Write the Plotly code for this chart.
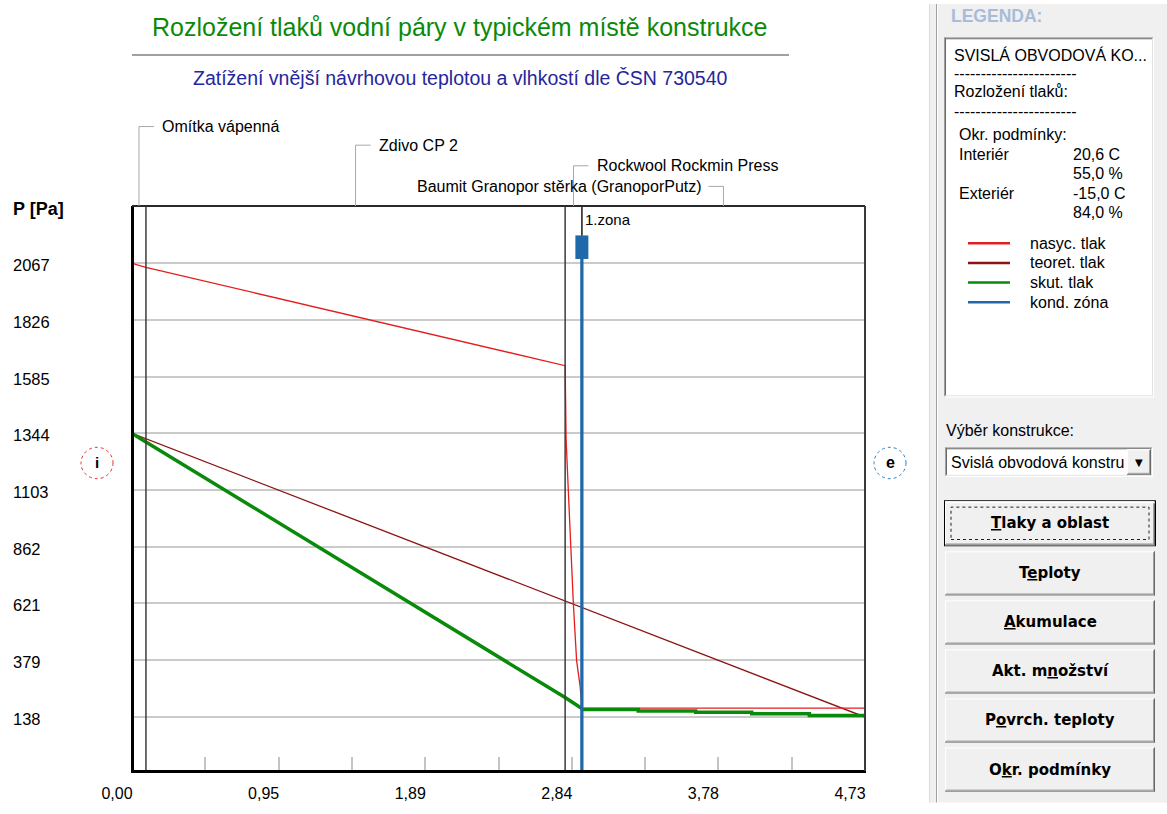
import plotly.graph_objects as go

# ---------------- data ----------------
layer_names = ["Omítka vápenná", "Zdivo CP 2", "Rockwool Rockmin Press",
               "Baumit Granopor stěrka (GranoporPutz)"]
layer_bounds = [0.0, 0.09, 2.795, 2.903, 4.73]

y_tick_vals = [138, 379, 621, 862, 1103, 1344, 1585, 1826, 2067]
x_tick_vals = [0.0, 0.473, 0.946, 1.419, 1.892, 2.365, 2.838, 3.311, 3.784, 4.257, 4.73]
x_tick_text = ["0,00", "", "0,95", "", "1,89", "", "2,84", "", "3,78", "", "4,73"]

# saturated pressure (nasyc. tlak)
sat_x = [0.0, 0.09, 2.795, 2.801, 2.815, 2.831, 2.848, 2.869, 2.891, 2.905, 4.73]
sat_p = [2067, 2050, 1632, 1324, 1108, 857, 621, 378, 273, 176, 176]
# theoretical pressure (teoret. tlak)
theo_x = [0.0, 0.09, 2.795, 2.903, 4.73]
theo_p = [1344, 1321, 631, 604, 138]
# actual pressure (skut. tlak)
act_x = [0.0, 0.09, 2.795, 2.903]
act_p = [1344, 1308, 221, 174]
act2_x = [2.903, 3.267, 3.637, 3.999, 4.371, 4.73]
act2_p = [170, 164, 158, 152, 145, 145]
# condensation zone
zone_x = [2.903]
zone_names = ["1.zona"]

legend_names = ["nasyc. tlak", "teoret. tlak", "skut. tlak", "kond. zóna"]
cond_rows = [("Interiér", "20,6 C", "55,0 %"), ("Exteriér", "-15,0 C", "84,0 %")]
button_labels = ["<u>T</u>laky a oblast", "T<u>e</u>ploty", "<u>A</u>kumulace",
                 "Akt. m<u>n</u>ožství", "P<u>o</u>vrch. teploty", "O<u>k</u>r. podmínky"]

title_text = "Rozložení tlaků vodní páry v typickém místě konstrukce"
subtitle_text = "Zatížení vnější návrhovou teplotou a vlhkostí dle ČSN 730540"

# ---------------- styles / layout ----------------
W, H = 1167, 814
L, R, T, B = 132, 865, 206, 782
FONT = "Liberation Sans, Arial, sans-serif"
BFONT = "DejaVu Sans, Verdana, sans-serif"
C_SAT = "#e41e1e"
C_THEO = "#8c1414"
C_ACT = "#0a8a0a"
C_ZONE = "#1f69ab"
Y_RANGE = [-91.4, 2311]
PF = 16  # panel font size


def px(x):
    return (x - L) / (R - L)


def py(y):
    return (B - y) / (B - T)


shapes = []
ann = []


def rect(x0, y0, x1, y1, fill=None, line=None, lw=1, dash=None, layer="above"):
    d = dict(type="rect", xref="paper", yref="paper", x0=px(x0), x1=px(x1),
             y0=py(y1), y1=py(y0), layer=layer,
             line=dict(width=lw if line else 0, color=line or "rgba(0,0,0,0)"))
    if dash:
        d["line"]["dash"] = dash
    if fill:
        d["fillcolor"] = fill
    shapes.append(d)


def hline(x0, x1, y, color, w=1):
    shapes.append(dict(type="line", xref="paper", yref="paper", x0=px(x0), x1=px(x1),
                       y0=py(y), y1=py(y), line=dict(color=color, width=w), layer="above"))


def vline(x, y0, y1, color, w=1):
    shapes.append(dict(type="line", xref="paper", yref="paper", x0=px(x), x1=px(x),
                       y0=py(y0), y1=py(y1), line=dict(color=color, width=w), layer="above"))


def text(x, y, s, size=14, color="#000000", anchor="left", family=FONT):
    ann.append(dict(xref="paper", yref="paper", x=px(x), y=py(y), text=s, showarrow=False,
                    xanchor=anchor, yanchor="middle",
                    font=dict(size=size, color=color, family=family)))


def sunken(x0, y0, x1, y1):
    rect(x0, y0, x1, y1, fill="#ffffff")
    hline(x0, x1, y0 + 0.5, "#a0a0a0")
    vline(x0 + 0.5, y0, y1, "#a0a0a0")
    hline(x0 + 1, x1 - 1, y0 + 1.5, "#696969")
    vline(x0 + 1.5, y0 + 1, y1 - 1, "#696969")
    hline(x0, x1, y1 - 0.5, "#ffffff")
    vline(x1 - 0.5, y0, y1, "#ffffff")
    hline(x0 + 1, x1 - 1, y1 - 1.5, "#e3e3e3")
    vline(x1 - 1.5, y0 + 1, y1 - 1, "#e3e3e3")


def raised(x0, y0, x1, y1):
    rect(x0, y0, x1, y1, fill="#f0f0f0")
    hline(x0, x1, y0 + 0.5, "#ffffff")
    vline(x0 + 0.5, y0, y1, "#ffffff")
    hline(x0, x1, y1 - 0.5, "#696969")
    vline(x1 - 0.5, y0, y1, "#696969")
    hline(x0 + 1, x1 - 1, y1 - 1.5, "#a0a0a0")
    vline(x1 - 1.5, y0 + 1, y1 - 1, "#a0a0a0")


# ---------------- traces ----------------
fig = go.Figure()
fig.add_trace(go.Scatter(x=theo_x, y=theo_p, mode="lines", name=legend_names[1],
                         line=dict(color=C_THEO, width=1.3), showlegend=False))
fig.add_trace(go.Scatter(x=sat_x, y=sat_p, mode="lines", name=legend_names[0],
                         line=dict(color=C_SAT, width=1.3), showlegend=False))
fig.add_trace(go.Scatter(x=act_x, y=act_p, mode="lines", name=legend_names[2],
                         line=dict(color=C_ACT, width=3.5), showlegend=False))
fig.add_trace(go.Scatter(x=act2_x, y=act2_p, mode="lines", name=legend_names[2],
                         line=dict(color=C_ACT, width=3.5, shape="hv"), showlegend=False))

# layer boundaries
for xb in layer_bounds[1:-1]:
    shapes.append(dict(type="line", xref="x", yref="paper", x0=xb, x1=xb, y0=0, y1=1,
                       line=dict(color="#3c3c3c", width=1.5), layer="above"))

# condensation zone
for zx, zn in zip(zone_x, zone_names):
    shapes.append(dict(type="line", xref="x", yref="paper", x0=zx, x1=zx, y0=py(236), y1=1,
                       line=dict(color="#3c3c3c", width=1.2), layer="above"))
    shapes.append(dict(type="line", xref="x", yref="paper", x0=zx, x1=zx, y0=0, y1=py(259),
                       line=dict(color=C_ZONE, width=3.3), layer="above"))
    shapes.append(dict(type="rect", xref="x", yref="paper", xsizemode="pixel", xanchor=zx,
                       x0=-6.5, x1=6.5, y0=py(260), y1=py(236), fillcolor=C_ZONE,
                       line=dict(width=0), layer="above"))
    ann.append(dict(xref="x", yref="paper", x=zx, y=py(220), text=zn, showarrow=False,
                    xanchor="left", yanchor="middle", xshift=1,
                    font=dict(size=15, color="#000000", family=FONT)))

# plot frame
vline(L + 0.5, T, B + 1.5, "#000000", 3)
hline(L - 1, R + 1, B + 0.5, "#000000", 3)
hline(L, R, T, "#2a2a2a", 2)
vline(R, T, B, "#3a3a3a", 2)

# layer labels with leaders
label_rows = [125, 144, 165, 186]
label_sides = ["right", "right", "right", "left"]
for i, name in enumerate(layer_names):
    mid = (layer_bounds[i] + layer_bounds[i + 1]) / 2
    row = label_rows[i]
    side = label_sides[i]
    shapes.append(dict(type="line", xref="x", yref="paper", x0=mid, x1=mid,
                       y0=py(row), y1=1, line=dict(color="#a8a8a8", width=1), layer="above"))
    sx = (0, 15) if side == "right" else (-15, 0)
    shapes.append(dict(type="line", xref="x", yref="paper", xsizemode="pixel", xanchor=mid,
                       x0=sx[0], x1=sx[1], y0=py(row), y1=py(row),
                       line=dict(color="#a8a8a8", width=1), layer="above"))
    ann.append(dict(xref="x", yref="paper", x=mid, y=py(row), text=name, showarrow=False,
                    xanchor="left" if side == "right" else "right", yanchor="middle",
                    xshift=21 if side == "right" else -19,
                    font=dict(size=16, color="#000000", family=FONT)))

# y tick labels (left aligned)
for v in y_tick_vals:
    ann.append(dict(xref="paper", yref="y", x=px(11), y=v, text=str(v), showarrow=False,
                    xanchor="left", yanchor="middle", yshift=-2,
                    font=dict(size=16.5, color="#000000", family=FONT)))
text(11, 209, "<b>P [Pa]</b>", 18)

# titles
text(460, 24, title_text, 25, "#0a8a0a", "center")
hline(132, 789, 52, "#a0a0a0", 2)
text(460, 75, subtitle_text, 19.5, "#26269c", "center")

# i / e circles
rect(81, 452, 113, 484, line="#e03030", lw=1, dash="dot")
shapes[-1]["type"] = "circle"
text(97, 467, "<b>i</b>", 15, "#000000", "center")
rect(874, 452, 906, 484, line="#2c7cc4", lw=1, dash="dot")
shapes[-1]["type"] = "circle"
text(890, 467, "<b>e</b>", 16, "#000000", "center")

# ---------------- right panel ----------------
rect(929, 0, W, H, fill="#f0f0f0", layer="below")
vline(929.5, 0, H, "#dcdcdc")
vline(936.5, 0, H, "#a0a0a0")
vline(937.5, 0, H, "#ffffff")

text(949, 12, "<b>LEGENDA:</b>", 17.5, "#a6bcd8")
sunken(944, 34, 1154, 401)
text(952, 52, "SVISLÁ OBVODOVÁ KO...", PF)
text(952, 71, "-" * 23, PF)
text(952, 89, "Rozložení tlaků:", PF)
text(952, 110, "-" * 23, PF)
text(957, 133, "Okr. podmínky:", PF)
r0 = 153
for name, t, rh in cond_rows:
    text(957, r0, name, PF)
    text(1071, r0, t, PF)
    text(1071, r0 + 20, rh, PF)
    r0 += 40
leg_colors = [C_SAT, C_THEO, C_ACT, C_ZONE]
for k, (nm, col) in enumerate(zip(legend_names, leg_colors)):
    yy = 244 + 20 * k
    hline(968, 1010, yy, col, 2.5)
    text(1028, yy, nm, PF)

text(944, 435, "Výběr konstrukce:", PF)
sunken(945, 452, 1153, 482)
text(949, 467, "Svislá obvodová konstru", PF)
raised(1127, 454, 1151, 480)
text(1139, 467, "▼", 10, "#000000", "center", "DejaVu Sans")

btn_top = [507, 558, 608, 658, 708, 758]
for k, (lab, y0) in enumerate(zip(button_labels, btn_top)):
    y1 = y0 + 45
    if k == 0:
        rect(944, y0 - 1, 1156, y1 + 1, fill="#000000")
        raised(945, y0, 1155, y1)
        hline(945, 1155, y0 + 1.5, "#ffffff")
        rect(951, y0 + 6, 1149, y1 - 6, line="#202020", lw=1, dash="dot")
    else:
        raised(945, y0, 1155, y1)
    text(1050, (y0 + y1) / 2, "<b>" + lab + "</b>", 15, "#000000", "center", BFONT)

fig.update_layout(
    width=W, height=H, margin=dict(l=L, r=W - R, t=T, b=H - B),
    paper_bgcolor="#ffffff", plot_bgcolor="#ffffff", showlegend=False,
    xaxis=dict(range=[0, 4.73], tickvals=x_tick_vals, ticktext=x_tick_text,
               ticks="inside", ticklen=14, tickwidth=1.5, tickcolor="#c4c4c4",
               showgrid=False, zeroline=False, showline=False,
               tickfont=dict(size=16, family=FONT, color="#000000"),
               ticklabelshift=-15, ticklabelstandoff=11, fixedrange=True),
    yaxis=dict(range=Y_RANGE, tickvals=y_tick_vals, showticklabels=False,
               showgrid=True, gridcolor="#cacaca", gridwidth=2, zeroline=False,
               showline=False, ticks="", fixedrange=True),
    shapes=shapes, annotations=ann,
)

fig.write_html("out.html", config={"displayModeBar": False},
               post_script="document.body.style.margin='0';document.body.style.overflow='hidden';")
